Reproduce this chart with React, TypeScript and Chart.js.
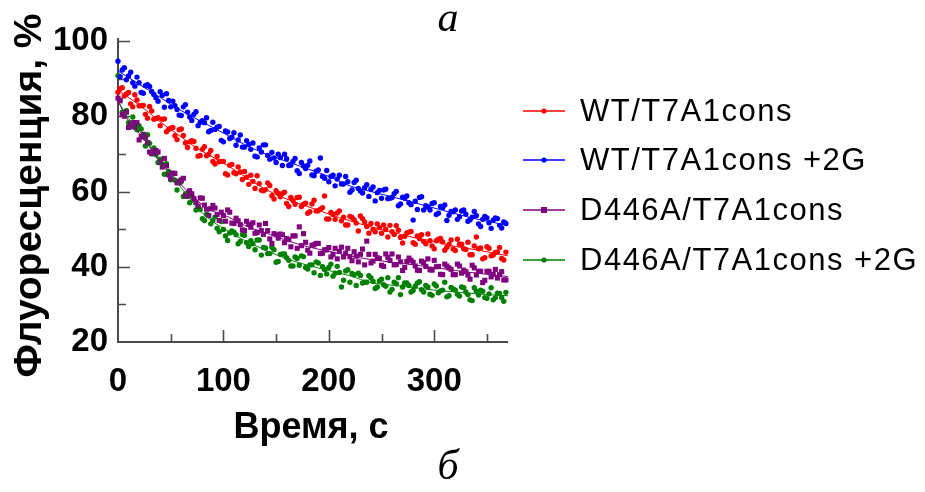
import React, { useEffect, useRef } from "react";
import { Chart, registerables } from "chart.js";

Chart.register(...registerables);

// ---- data ----
const seriesLabels = ["WT/T7A1cons", "WT/T7A1cons +2G", "D446A/T7A1cons", "D446A/T7A1cons +2G"];

// readings at even time steps (first run of samples)
const timesA = [
  0, 4, 8, 12, 16, 20, 24, 28, 32, 36,
  40, 44, 48, 52, 56, 60, 64, 68, 72, 76,
  80, 84, 88, 92, 96, 100, 104, 108, 112, 116,
  120, 124, 128, 132, 136, 140, 144, 148, 152, 156,
  160, 164, 168, 172, 176, 180, 184, 188, 192, 196,
  200, 204, 208, 212, 216, 220, 224, 228, 232, 236,
  240, 244, 248, 252, 256, 260, 264, 268, 272, 276,
  280, 284, 288, 292, 296, 300, 304, 308, 312, 316,
  320, 324, 328, 332, 336, 340, 344, 348, 352, 356,
  360, 364, 368,
];
// readings in between
const timesB = [
  2, 6, 10, 14, 18, 22, 26, 30, 34, 38,
  42, 46, 50, 54, 58, 62, 66, 70, 74, 78,
  82, 86, 90, 94, 98, 102, 106, 110, 114, 118,
  122, 126, 130, 134, 138, 142, 146, 150, 154, 158,
  162, 166, 170, 174, 178, 182, 186, 190, 194, 198,
  202, 206, 210, 214, 218, 222, 226, 230, 234, 238,
  242, 246, 250, 254, 258, 262, 266, 270, 274, 278,
  282, 286, 290, 294, 298, 302, 306, 310, 314, 318,
  322, 326, 330, 334, 338, 342, 346, 350, 354, 358,
  362, 366,
];

const wtA = [
  86.4, 87.6, 85.9, 83.3, 85.7, 82.8, 82.9, 79.5, 81.4, 79.4,
  77.5, 79.3, 76.5, 77.0, 73.8, 76.6, 72.9, 73.2, 73.3, 69.4,
  71.2, 69.5, 70.9, 67.3, 67.9, 68.0, 64.4, 67.2, 64.7, 65.2,
  65.3, 61.9, 62.7, 64.2, 60.3, 60.5, 61.6, 58.0, 59.5, 59.5,
  56.8, 58.4, 56.6, 58.5, 56.6, 54.2, 56.7, 54.8, 55.3, 58.8,
  52.7, 53.9, 54.3, 52.2, 51.1, 53.4, 52.5, 49.5, 52.8, 50.7,
  51.5, 49.3, 50.4, 51.1, 47.9, 49.3, 50.9, 47.8, 48.1, 49.2,
  46.4, 48.2, 48.5, 46.1, 46.9, 44.8, 47.3, 46.6, 45.2, 47.1,
  44.3, 46.0, 44.8, 46.5, 43.2, 47.9, 45.0, 42.4, 44.9, 43.1,
  43.9, 42.2, 43.9,
];
const wtB = [
  87.3, 85.4, 86.3, 82.5, 84.3, 82.8, 80.5, 82.6, 79.2, 79.6,
  79.2, 75.9, 76.8, 74.8, 76.4, 74.9, 71.7, 73.5, 71.5, 69.6,
  71.9, 69.9, 68.0, 69.3, 68.0, 64.7, 67.0, 65.0, 66.5, 63.2,
  63.8, 64.3, 60.8, 62.1, 60.2, 62.3, 58.9, 60.2, 58.6, 59.8,
  56.0, 57.6, 58.4, 56.0, 56.9, 54.6, 57.7, 54.9, 55.7, 52.7,
  54.4, 52.6, 54.8, 53.2, 51.1, 53.1, 51.6, 53.5, 51.9, 48.9,
  49.9, 51.4, 48.9, 49.9, 51.0, 48.6, 49.7, 46.3, 49.0, 49.4,
  46.0, 47.5, 46.7, 48.7, 45.5, 46.9, 47.5, 44.4, 45.9, 44.7,
  47.3, 46.0, 44.6, 43.2, 45.5, 44.8, 42.1, 45.3, 42.9, 43.8,
  45.1, 41.8,
];

const wt2gA = [
  94.6, 92.3, 89.7, 91.7, 88.0, 88.9, 86.1, 88.4, 86.6, 84.9,
  86.5, 82.4, 84.2, 84.0, 81.8, 80.2, 83.1, 79.8, 80.5, 77.5,
  78.8, 79.6, 76.2, 76.5, 77.3, 73.2, 75.8, 74.4, 72.3, 75.0,
  71.8, 72.5, 72.9, 69.2, 70.5, 72.4, 68.6, 68.9, 69.9, 66.9,
  68.7, 67.0, 68.8, 64.8, 66.8, 67.0, 64.4, 65.4, 68.9, 63.5,
  62.6, 64.3, 63.3, 62.0, 64.0, 59.8, 62.4, 60.8, 59.6, 61.8,
  60.6, 57.5, 60.3, 60.4, 58.1, 58.4, 60.0, 56.7, 58.2, 57.0,
  52.4, 55.2, 58.6, 56.2, 55.1, 57.0, 54.2, 55.7, 52.3, 54.7,
  55.1, 53.3, 55.1, 52.1, 53.2, 53.6, 50.7, 53.4, 51.7, 52.4,
  52.8, 50.3, 51.5,
];
const wt2gB = [
  90.5, 92.9, 90.7, 88.9, 90.4, 86.3, 88.1, 87.9, 85.8, 84.0,
  85.6, 86.0, 82.5, 82.8, 80.3, 82.5, 81.1, 78.9, 81.2, 78.4,
  78.3, 75.9, 78.4, 77.1, 73.6, 76.1, 74.1, 75.6, 73.7, 71.8,
  73.5, 71.2, 69.4, 71.6, 72.4, 69.6, 70.4, 67.7, 69.0, 69.9,
  66.9, 68.0, 65.5, 67.7, 66.1, 68.1, 64.2, 65.7, 64.0, 65.6,
  64.0, 61.5, 64.3, 62.0, 62.6, 60.4, 63.0, 60.1, 61.0, 58.7,
  61.2, 59.7, 58.2, 60.6, 58.2, 59.4, 56.2, 58.5, 58.8, 56.5,
  57.4, 58.4, 55.1, 55.9, 56.8, 53.9, 56.0, 56.4, 53.7, 54.6,
  52.6, 54.8, 54.0, 52.5, 54.7, 51.4, 52.6, 53.0, 50.2, 53.0,
  51.0, 51.9,
];

const d446aA = [
  84.8, 80.4, 81.1, 77.8, 77.1, 73.7, 75.2, 73.0, 70.1, 70.9,
  67.8, 68.8, 64.4, 64.9, 62.3, 63.1, 59.0, 60.2, 58.1, 56.1,
  58.2, 55.3, 55.4, 55.6, 52.3, 53.6, 55.1, 51.6, 52.9, 51.2,
  49.6, 51.3, 51.7, 49.1, 49.6, 51.5, 47.4, 48.8, 47.6, 48.5,
  47.5, 45.3, 48.2, 50.6, 48.8, 44.4, 45.7, 46.2, 43.5, 44.5,
  45.1, 43.3, 42.1, 45.2, 43.6, 42.7, 44.0, 41.3, 44.7, 46.8,
  41.0, 43.3, 42.2, 40.1, 42.5, 43.4, 40.6, 41.3, 39.8, 42.3,
  41.2, 39.1, 41.5, 40.1, 39.2, 41.7, 40.1, 37.9, 40.2, 39.3,
  37.9, 40.2, 39.1, 37.8, 40.4, 37.8, 38.8, 36.4, 38.8, 38.0,
  37.0, 38.7, 36.5,
];
const d446aB = [
  84.1, 80.0, 77.0, 78.3, 78.3, 74.6, 74.3, 70.5, 70.7, 70.5,
  66.5, 66.8, 63.4, 64.8, 62.3, 63.5, 58.7, 59.4, 57.1, 58.3,
  56.4, 53.6, 56.3, 53.9, 54.5, 52.1, 54.5, 51.5, 52.2, 49.8,
  52.1, 50.5, 48.9, 51.1, 48.6, 49.6, 46.2, 48.5, 48.7, 46.4,
  47.2, 48.2, 44.9, 45.6, 46.5, 43.6, 45.8, 46.2, 43.6, 44.5,
  42.6, 44.9, 44.1, 42.6, 44.9, 41.6, 42.8, 43.3, 40.5, 43.3,
  41.5, 42.4, 40.4, 43.4, 41.7, 40.5, 42.6, 39.0, 41.4, 41.7,
  40.2, 39.0, 41.1, 42.1, 39.1, 40.0, 38.0, 40.7, 39.7, 37.9,
  40.7, 38.3, 38.7, 36.7, 39.7, 38.8, 35.8, 38.8, 37.3, 39.3,
  37.9, 36.5,
];

const d446a2gA = [
  90.8, 81.1, 81.5, 77.2, 78.2, 77.5, 74.5, 75.1, 70.0, 69.8,
  68.6, 64.6, 65.3, 64.7, 60.4, 62.6, 59.3, 57.0, 57.9, 56.0,
  52.8, 53.9, 51.4, 53.2, 49.3, 49.9, 47.0, 49.5, 48.5, 46.7,
  48.3, 45.4, 46.1, 47.1, 43.1, 45.0, 43.5, 44.5, 41.4, 43.4,
  42.4, 40.2, 42.6, 40.4, 42.7, 39.4, 40.5, 41.3, 37.7, 39.3,
  39.8, 37.5, 40.1, 34.6, 38.9, 35.9, 37.9, 38.3, 35.7, 35.9,
  37.0, 34.2, 36.2, 35.2, 37.1, 34.0, 35.5, 32.6, 35.7, 35.0,
  33.7, 35.7, 33.9, 35.0, 32.7, 35.4, 33.1, 33.8, 32.0, 34.5,
  33.8, 32.2, 34.4, 32.6, 31.0, 33.5, 33.8, 31.8, 32.8, 31.2,
  33.0, 31.8, 33.2,
];
const d446a2gB = [
  84.3, 81.1, 78.3, 79.8, 76.4, 76.6, 72.1, 72.8, 71.6, 67.7,
  67.3, 67.4, 63.1, 63.0, 62.8, 58.7, 59.6, 58.8, 55.1, 55.2,
  52.3, 53.7, 52.3, 50.2, 52.0, 48.2, 49.0, 49.2, 46.1, 48.6,
  46.4, 46.9, 44.5, 47.1, 45.1, 43.5, 45.2, 41.2, 43.3, 43.4,
  41.7, 40.2, 42.2, 42.9, 39.8, 40.5, 38.4, 41.0, 40.0, 38.1,
  40.7, 38.3, 38.5, 36.4, 39.2, 38.2, 35.0, 37.7, 35.9, 37.6,
  36.1, 34.6, 36.7, 34.8, 33.3, 35.9, 37.1, 34.6, 35.7, 33.3,
  34.8, 36.0, 33.3, 34.6, 32.4, 34.9, 33.6, 35.9, 32.3, 34.1,
  32.7, 34.6, 33.3, 31.2, 34.4, 32.5, 33.5, 31.6, 34.4, 31.8,
  32.9, 30.8,
];

// fitted curves
const fitTimes = [0, 10, 20, 30, 40, 50, 60, 75, 90, 105, 120, 140, 160, 180, 200, 220, 240, 260, 280, 300, 320, 340, 370];
const wtFit = [87, 85, 83, 80.8, 78.5, 76.5, 74.5, 71.5, 69.1, 66.7, 64, 60.6, 58, 56, 54, 52.2, 50.6, 49.2, 47.8, 46.7, 45.4, 44.5, 42.9];
const wt2gFit = [92, 90.3, 88.5, 86.8, 85, 83.2, 81.5, 79.2, 77, 74.8, 72.5, 70, 68, 66, 64, 61.5, 60, 58.6, 57.1, 55.6, 54.1, 52.7, 51];
const d446aFit = [84, 78.8, 75.5, 71.8, 68, 64.9, 61.8, 57.6, 54.8, 53.2, 51, 49, 47, 45.3, 44.1, 42.9, 41.9, 41.2, 40.5, 39.8, 39, 38.3, 37.4];
const d446a2gFit = [84, 79.4, 76.3, 72.2, 67.5, 64.4, 61, 55.7, 52, 49.4, 47, 44.4, 42.1, 40.4, 39, 37.6, 35.8, 35.1, 34.5, 33.8, 33.3, 32.8, 32.3];

const xMajorTicks = [0, 100, 200, 300];
const xMinorTicks = [50, 150, 250, 350];
const yMajorTicks = [20, 40, 60, 80, 100];
const yMinorTicks = [30, 50, 70, 90];

const xTitle = "Время, с";
const yTitle = "Флуоресценция, %";
const topLetter = "а";
const bottomLetter = "б";

// ---- styles ----
const seriesColors = ["#ff0000", "#0000ff", "#800080", "#008000"];
const seriesPointStyles = ["circle", "circle", "rect", "circle"];
const seriesPointRadius = [2.7, 2.7, 3.6, 2.7];
const SANS = '"Liberation Sans", Arial, sans-serif';
const SERIF = '"Liberation Serif", "Times New Roman", serif';

const decorPlugin = {
  id: "decor",
  beforeDatasetsDraw(chart: any) {
    const { ctx, chartArea: a, scales } = chart;
    const x = scales.x;
    const y = scales.y;
    ctx.save();
    ctx.strokeStyle = "#4a4a4a";
    ctx.lineWidth = 2;
    ctx.beginPath();
    ctx.moveTo(a.left, a.top - 3);
    ctx.lineTo(a.left, a.bottom);
    ctx.lineTo(a.right, a.bottom);
    ctx.stroke();
    ctx.lineWidth = 1.6;
    ctx.beginPath();
    xMajorTicks.forEach((v) => {
      if (v === 0) return;
      const px = Math.round(x.getPixelForValue(v)) + 0.5;
      ctx.moveTo(px, a.bottom);
      ctx.lineTo(px, a.bottom - 12);
    });
    xMinorTicks.forEach((v) => {
      const px = Math.round(x.getPixelForValue(v)) + 0.5;
      ctx.moveTo(px, a.bottom);
      ctx.lineTo(px, a.bottom - 8);
    });
    yMajorTicks.forEach((v) => {
      if (v === 20) return;
      const py = Math.round(y.getPixelForValue(v)) + 0.5;
      ctx.moveTo(a.left, py);
      ctx.lineTo(a.left + 12, py);
    });
    yMinorTicks.forEach((v) => {
      const py = Math.round(y.getPixelForValue(v)) + 0.5;
      ctx.moveTo(a.left, py);
      ctx.lineTo(a.left + 8, py);
    });
    ctx.stroke();
    ctx.restore();
  },
  afterDraw(chart: any) {
    const { ctx, chartArea: a } = chart;
    ctx.save();
    ctx.fillStyle = "#000";
    // y title
    ctx.save();
    ctx.translate(30, (a.top + a.bottom) / 2 + 4);
    ctx.rotate(-Math.PI / 2);
    ctx.font = `bold 39px ${SANS}`;
    ctx.textAlign = "center";
    ctx.textBaseline = "middle";
    ctx.fillText(yTitle, 0, 0);
    ctx.restore();
    // x title
    ctx.font = `bold 36px ${SANS}`;
    ctx.textAlign = "center";
    ctx.textBaseline = "middle";
    ctx.fillText(xTitle, (a.left + a.right) / 2 - 2, 428);
    // letters
    ctx.font = `italic 42px ${SERIF}`;
    ctx.fillText(topLetter, 448, 20);
    ctx.fillText(bottomLetter, 448, 468);
    // legend
    const rows = [111, 160, 210, 260];
    seriesLabels.forEach((label, i) => {
      const yy = rows[i];
      ctx.strokeStyle = seriesColors[i];
      ctx.lineWidth = 1.5;
      ctx.beginPath();
      ctx.moveTo(523, yy);
      ctx.lineTo(565, yy);
      ctx.stroke();
      ctx.fillStyle = seriesColors[i];
      if (seriesPointStyles[i] === "rect") {
        ctx.fillRect(541, yy - 3, 6, 6);
      } else {
        ctx.beginPath();
        ctx.arc(544, yy, 2.6, 0, Math.PI * 2);
        ctx.fill();
      }
      ctx.fillStyle = "#000";
      ctx.font = `31px ${SANS}`;
      ctx.textAlign = "left";
      ctx.textBaseline = "middle";
      (ctx as any).letterSpacing = "1.5px";
      ctx.fillText(label, 580, yy + 1);
      (ctx as any).letterSpacing = "0px";
    });
    ctx.restore();
  },
};

export default function App() {
  const canvasRef = useRef<HTMLCanvasElement | null>(null);

  useEffect(() => {
    const canvas = canvasRef.current;
    if (!canvas) return;
    const runsA = [wtA, wt2gA, d446aA, d446a2gA];
    const runsB = [wtB, wt2gB, d446aB, d446a2gB];
    const fitSets = [wtFit, wt2gFit, d446aFit, d446a2gFit];

    const scatterSets = runsA.map((vals, i) => ({
      type: "scatter" as const,
      label: seriesLabels[i],
      data: [
        ...vals.map((v, j) => ({ x: timesA[j], y: v })),
        ...runsB[i].map((v, j) => ({ x: timesB[j], y: v })),
      ],
      backgroundColor: seriesColors[i],
      borderColor: seriesColors[i],
      borderWidth: 0,
      pointStyle: seriesPointStyles[i] as any,
      pointRadius: seriesPointRadius[i],
      showLine: false,
      clip: false as any,
      order: 2,
    }));
    const fitLineSets = fitSets.map((vals, i) => ({
      type: "line" as const,
      label: seriesLabels[i] + " fit",
      data: vals.map((v, j) => ({ x: fitTimes[j], y: v })),
      borderColor: seriesColors[i],
      borderWidth: 1,
      pointRadius: 0,
      fill: false,
      cubicInterpolationMode: "monotone" as const,
      order: 1,
    }));

    const chart = new Chart(canvas, {
      type: "scatter",
      data: { datasets: [...scatterSets, ...fitLineSets] as any },
      options: {
        responsive: false,
        animation: false,
        devicePixelRatio: 1,
        layout: { padding: { top: 41, right: 417, bottom: 0, left: 0 } },
        plugins: { legend: { display: false }, tooltip: { enabled: false } },
        scales: {
          x: {
            type: "linear",
            min: 0,
            max: 370,
            afterBuildTicks: (s: any) => {
              s.ticks = xMajorTicks.map((v) => ({ value: v }));
            },
            afterFit: (s: any) => {
              s.height = 150;
            },
            ticks: {
              color: "#000",
              padding: 20,
              maxRotation: 0,
              autoSkip: false,
              font: { family: SANS, size: 33, weight: "bold" },
            },
            grid: { display: false, drawTicks: false },
            border: { display: false },
          },
          y: {
            type: "linear",
            min: 20,
            max: 100,
            afterBuildTicks: (s: any) => {
              s.ticks = yMajorTicks.map((v) => ({ value: v }));
            },
            afterFit: (s: any) => {
              s.width = 118;
            },
            ticks: {
              color: "#000",
              padding: 10,
              autoSkip: false,
              font: { family: SANS, size: 33, weight: "bold" },
            },
            grid: { display: false, drawTicks: false },
            border: { display: false },
          },
        },
      },
      plugins: [decorPlugin as any],
    });
    return () => chart.destroy();
  }, []);

  return (
    <div style={{ position: "fixed", left: 0, top: 0, width: 925, height: 492, background: "#fff" }}>
      <canvas ref={canvasRef} width={925} height={492} />
    </div>
  );
}
